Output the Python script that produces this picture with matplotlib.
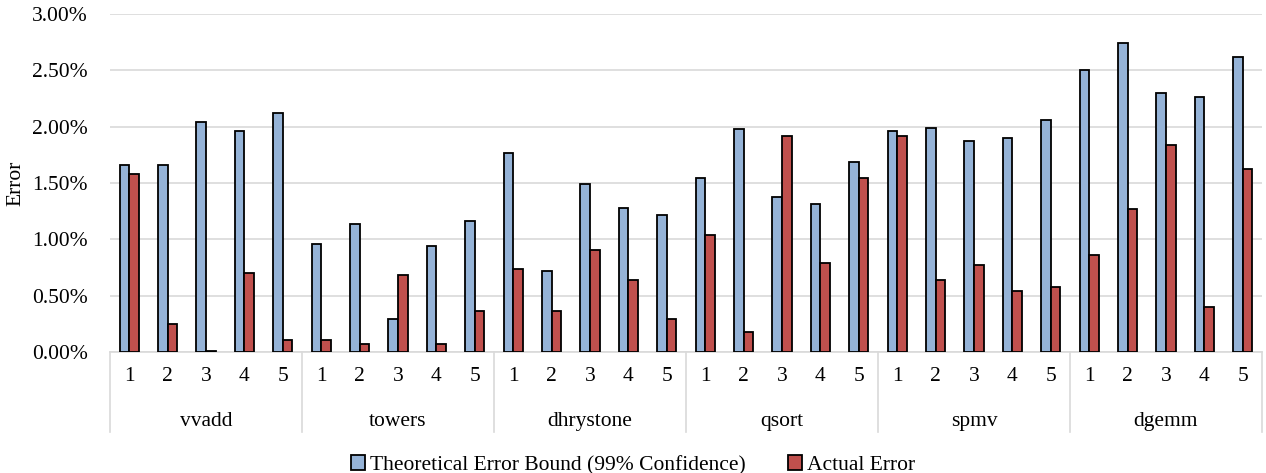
import numpy as np
import matplotlib
matplotlib.use('Agg')
import matplotlib.pyplot as plt
from matplotlib.ticker import PercentFormatter

benchmarks = ['vvadd', 'towers', 'dhrystone', 'qsort', 'spmv', 'dgemm']
runs = ['1', '2', '3', '4', '5']

# values in percent
bound = [1.66, 1.66, 2.04, 1.96, 2.12,
         0.96, 1.14, 0.29, 0.94, 1.16,
         1.77, 0.72, 1.49, 1.28, 1.22,
         1.54, 1.98, 1.38, 1.31, 1.69,
         1.96, 1.99, 1.87, 1.90, 2.06,
         2.50, 2.745, 2.30, 2.26, 2.62]
actual = [1.58, 0.25, 0.01, 0.70, 0.11,
          0.11, 0.07, 0.68, 0.07, 0.36,
          0.74, 0.36, 0.905, 0.64, 0.29,
          1.04, 0.18, 1.92, 0.79, 1.54,
          1.92, 0.64, 0.77, 0.54, 0.58,
          0.86, 1.27, 1.84, 0.40, 1.62]

plt.rcParams['font.family'] = ['Liberation Serif', 'DejaVu Serif']
fs = 15.5

fig = plt.figure(figsize=(12.66, 4.73), dpi=100)
ax = fig.add_axes([0.0869, 0.2558, 0.9099, 0.7146])

x = np.arange(len(bound))
w = 0.25
ax.bar(x - w / 2, bound, w, color='#95B3D7', edgecolor='black', linewidth=1.3,
       label='Theoretical Error Bound (99% Confidence)', zorder=3)
ax.bar(x + w / 2, actual, w, color='#C0504D', edgecolor='black', linewidth=1.3,
       label='Actual Error', zorder=3)

ax.set_xlim(-0.5, len(bound) - 0.5)
ax.set_ylim(0, 3.0)
ax.set_yticks(np.arange(0, 3.01, 0.5))
ax.yaxis.set_major_formatter(PercentFormatter(decimals=2))
ax.grid(axis='y', color='#D9D9D9', linewidth=1.2, zorder=0)

for s in ['top', 'right', 'left']:
    ax.spines[s].set_visible(False)
ax.spines['bottom'].set_color('#D9D9D9')
ax.spines['bottom'].set_linewidth(1.2)

ax.set_xticks(x)
ax.set_xticklabels(runs * len(benchmarks), fontsize=fs)
ax.tick_params(axis='x', length=0, pad=11)
ax.tick_params(axis='y', length=0, pad=16, labelsize=fs)

ax.set_ylabel('Error', fontsize=fs)
ax.yaxis.set_label_coords(-0.073, 0.5)

# group labels and separators
trans = ax.get_xaxis_transform()
n = len(runs)
for i, name in enumerate(benchmarks):
    ax.text(i * n + (n - 1) / 2, -0.205, name, transform=trans,
            ha='center', va='center', fontsize=fs)
for i in range(len(benchmarks) + 1):
    xs = i * n - 0.5
    ax.plot([xs, xs], [0, -0.237], transform=trans, color='#D9D9D9',
            linewidth=1.2, clip_on=False)

fig.legend(loc='lower center', bbox_to_anchor=(0.5, -0.027), ncol=2,
           frameon=False, fontsize=fs, handlelength=0.65, handleheight=0.65,
           handletextpad=0.2, columnspacing=2.0, borderaxespad=0.1)

fig.savefig('out.png', dpi=100)
